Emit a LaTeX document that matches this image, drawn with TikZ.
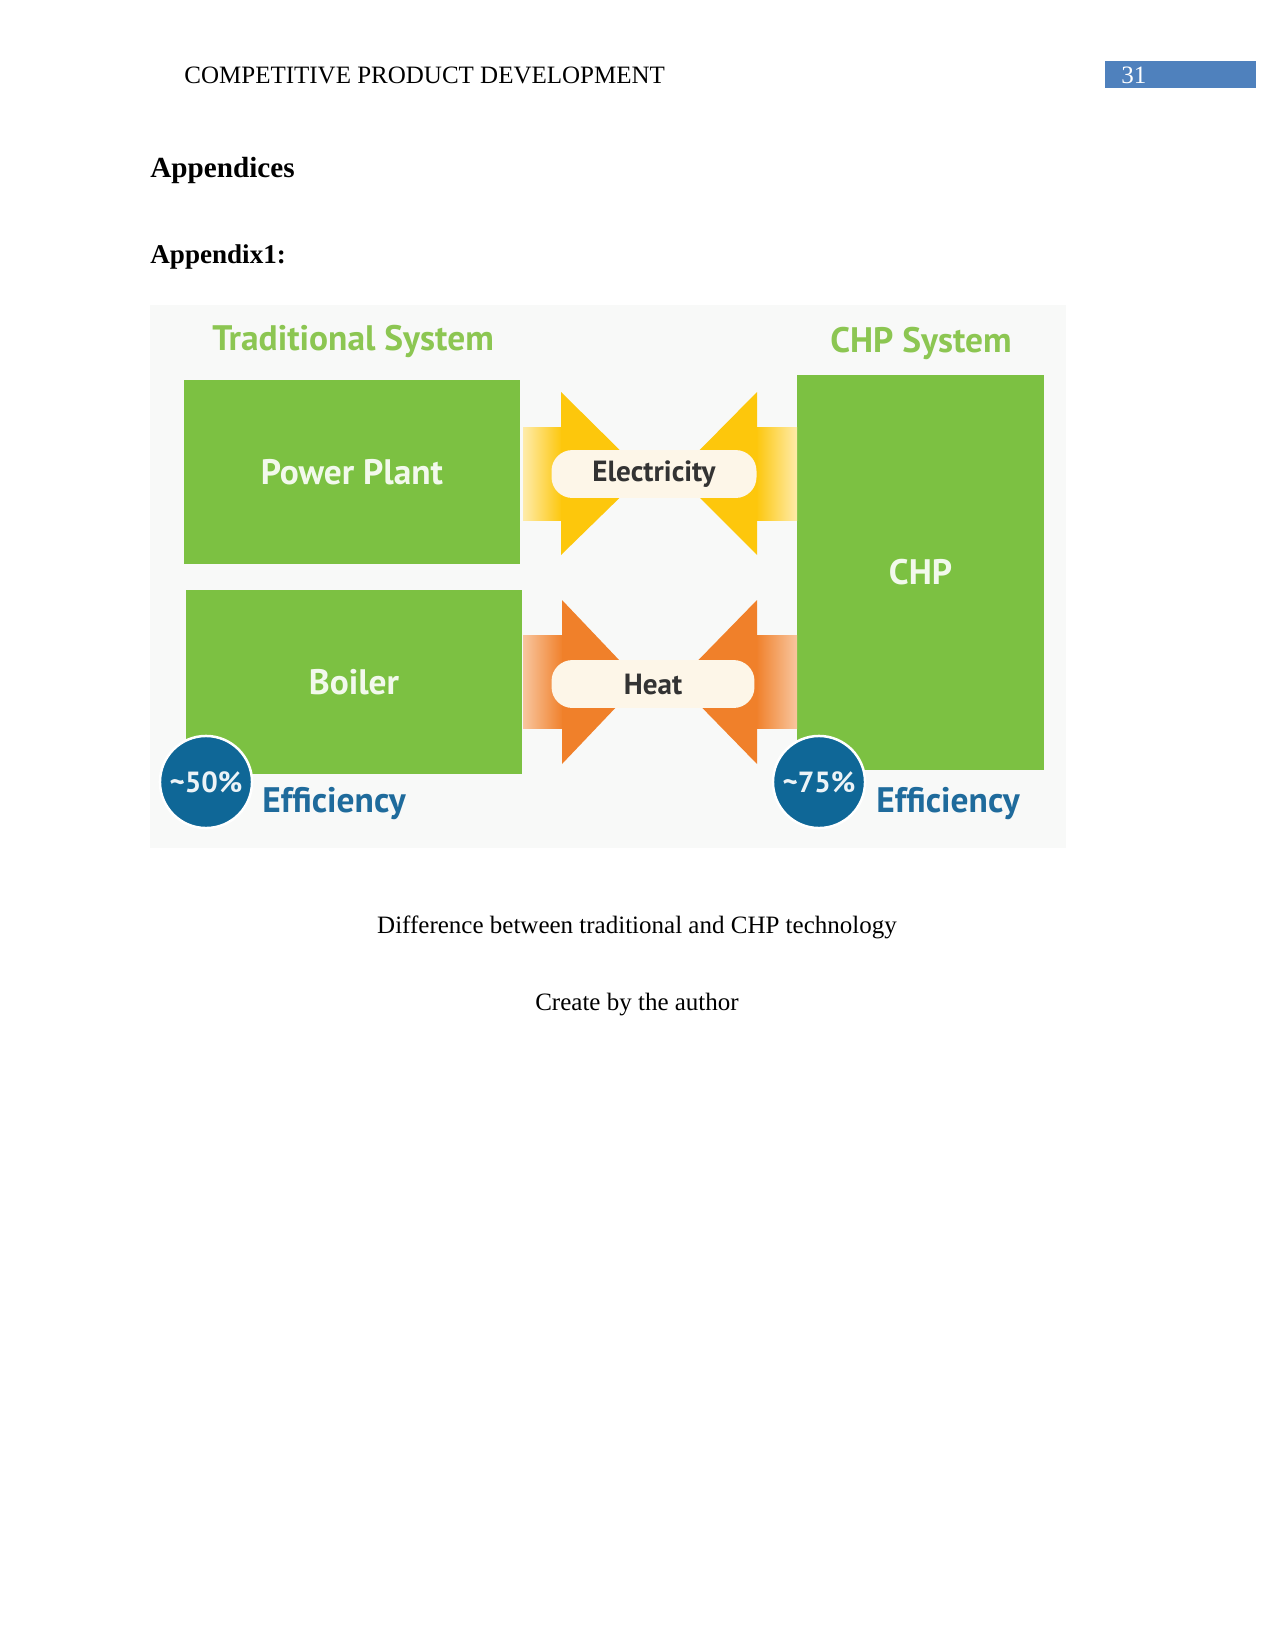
\documentclass[tikz,border=0pt]{standalone}
\usepackage{fontspec}
\setmainfont{Liberation Serif}
\newfontfamily\diagfont{PT Sans}
\usepackage{xcolor}
\usetikzlibrary{positioning}
\definecolor{plantgreen}{HTML}{7CC142}
\definecolor{titlegreen}{HTML}{8CC652}
\definecolor{elecyellow}{HTML}{FDC70C}
\definecolor{heatorange}{HTML}{F0802A}
\definecolor{effblue}{HTML}{0F6797}
\definecolor{efftext}{HTML}{1F6B9C}
\definecolor{pillcream}{HTML}{FDF6E8}
\definecolor{pagebar}{HTML}{4F81BD}
\definecolor{imgbg}{HTML}{F8F9F8}
\tikzset{
  doc/.style  ={inner sep=0pt, font=\fontsize{12}{14}\selectfont},
  unit/.style ={rectangle, fill=plantgreen, text=white!90!plantgreen,
                font=\diagfont\bfseries\fontsize{17}{20}\selectfont},
  pill/.style ={rectangle, rounded corners=10pt, fill=pillcream, text=black!80,
                font=\diagfont\bfseries\fontsize{14}{17}\selectfont},
  ttl/.style  ={text=titlegreen, font=\diagfont\bfseries\fontsize{17}{20}\selectfont},
  badge/.style={circle, fill=effblue, draw=white, line width=1.2pt, minimum size=44.2pt,
                inner sep=0pt, text=white!92!effblue,
                font=\diagfont\bfseries\fontsize{14}{17}\selectfont},
  eff/.style  ={anchor=west, inner sep=0pt, text=efftext,
                font=\diagfont\bfseries\fontsize{17}{20}\selectfont},
}

\begin{document}
\begin{tikzpicture}[x=0.48pt, y=-0.48pt]

  % ── Page ───────────────────────────────────────────────────────────
  \useasboundingbox (0,0) rectangle (1275,1651);
  \fill[white] (0,0) rectangle (1275,1651);

  \node[doc, anchor=base west] (runhead) at (184,84) {COMPETITIVE PRODUCT DEVELOPMENT};
  \node[fill=pagebar, anchor=north west, minimum height=13pt, inner xsep=7.7pt,
        inner ysep=0pt, text width=57pt, align=left, text=white,
        font=\fontsize{12}{13}\selectfont] (pageno) at (1105,61) {31};

  \node[doc, anchor=base west, font=\bfseries\fontsize{14}{17}\selectfont] (apps) at (150,178) {Appendices};
  \node[doc, anchor=base west, font=\bfseries\fontsize{13}{16}\selectfont] (app1) at (150,263) {Appendix1:};

  % ── Figure background ──────────────────────────────────────────────
  \fill[imgbg] (150,305) rectangle (1066,848);

  \node[ttl] (trad) at (353,341) {Traditional System};
  \node[ttl] (chpsys) at (921,343) {CHP System};

  % ── Plants ─────────────────────────────────────────────────────────
  \node[unit, minimum width=161.3pt, minimum height=88.3pt] (plant)  at (352,472) {Power Plant};
  \node[unit, minimum width=161.3pt, minimum height=88.3pt] (boiler) at (354,682) {Boiler};
  \node[unit, minimum width=118.6pt, minimum height=189.6pt] (chp)   at (920.5,572.5) {CHP};

  % ── Block arrows ───────────────────────────────────────────────────
  % electricity
  \shade[left color=elecyellow!35, right color=elecyellow] (523,427) rectangle (562,520);
  \fill[elecyellow] (561,392) -- (644,474) -- (561,555) -- cycle;
  \shade[left color=elecyellow, right color=elecyellow!35] (756,427) rectangle (797,520);
  \fill[elecyellow] (757,392) -- (676,474) -- (757,555) -- cycle;
  % heat
  \shade[left color=heatorange!45, right color=heatorange] (523,635) rectangle (563,728);
  \fill[heatorange] (562,600) -- (640,682) -- (562,764) -- cycle;
  \shade[left color=heatorange, right color=heatorange!45] (756,635) rectangle (797,728);
  \fill[heatorange] (757,600) -- (677,682) -- (757,764) -- cycle;

  \node[pill, minimum width=98.4pt, minimum height=23pt] (elec) at (654,474) {Electricity};
  \node[pill, minimum width=97.4pt, minimum height=23pt] (heat) at (653,684) {Heat};

  % ── Efficiency badges ──────────────────────────────────────────────
  \node[badge] (tradeff) at (206,782) {\textasciitilde50\%};
  \node[eff] (tradlbl) at (262,804) {Efficiency};
  \node[badge] (chpeff) at (819,782) {\textasciitilde75\%};
  \node[eff] (chplbl) at (876,804) {Efficiency};

  % ── Caption ────────────────────────────────────────────────────────
  \node[doc] (cap)  at (637,927)  {Difference between traditional and CHP technology};
  \node[doc] (auth) at (637,1005) {Create by the author};

\end{tikzpicture}
\end{document}
